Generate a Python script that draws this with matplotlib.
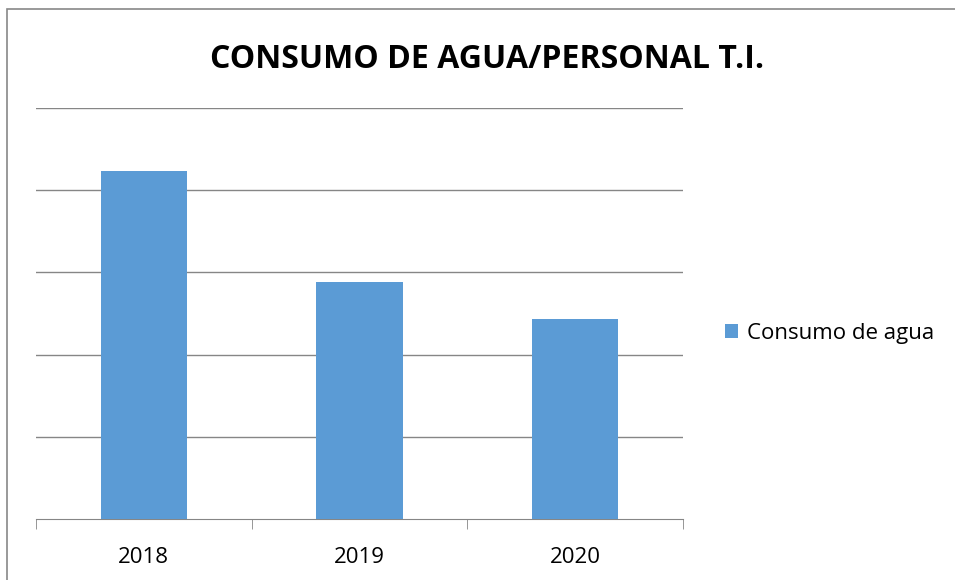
import matplotlib.pyplot as plt
import matplotlib.patches as mpatches

years = ["2018", "2019", "2020"]
consumo = [4.23, 2.88, 2.43]

plt.rcParams["font.family"] = ["Open Sans", "DejaVu Sans"]

fig = plt.figure(figsize=(9.55, 5.8), dpi=100)
ax = fig.add_axes([36 / 955, 61 / 580, 647 / 955, 411 / 580])

# chart border (cut off at right/bottom)
fig.patches.append(mpatches.Rectangle((7 / 955, -0.1), 1.1, (571 / 580) + 0.1,
                                      transform=fig.transFigure, fill=False,
                                      edgecolor="#888888", linewidth=1.2))

x = range(len(years))
ax.bar(x, consumo, width=0.4, color="#5B9BD5", zorder=3, label="Consumo de agua")

ax.set_xlim(-0.5, 2.5)
ax.set_ylim(0, 5)
ax.set_yticks([1, 2, 3, 4, 5])
ax.yaxis.grid(True, color="#868686", linewidth=1)
ax.tick_params(axis="y", left=False, labelleft=False)

ax.set_xticks(list(x))
ax.set_xticklabels(years, fontsize=16)
ax.set_xticks([-0.5, 0.5, 1.5, 2.5], minor=True)
ax.tick_params(axis="x", which="major", length=0, pad=20)
ax.tick_params(axis="x", which="minor", length=7, color="#868686")

for s in ["top", "right", "left"]:
    ax.spines[s].set_visible(False)
ax.spines["bottom"].set_color("#868686")

fig.text(0.51, 0.897, "CONSUMO DE AGUA/PERSONAL T.I.", ha="center", va="center",
         fontsize=23, fontweight="bold")

fig.legend(loc="center left", bbox_to_anchor=(0.738, 0.425), frameon=False,
           fontsize=16, handlelength=0.6, handleheight=0.6, handletextpad=0.4)

fig.savefig("out.png", dpi=100)
